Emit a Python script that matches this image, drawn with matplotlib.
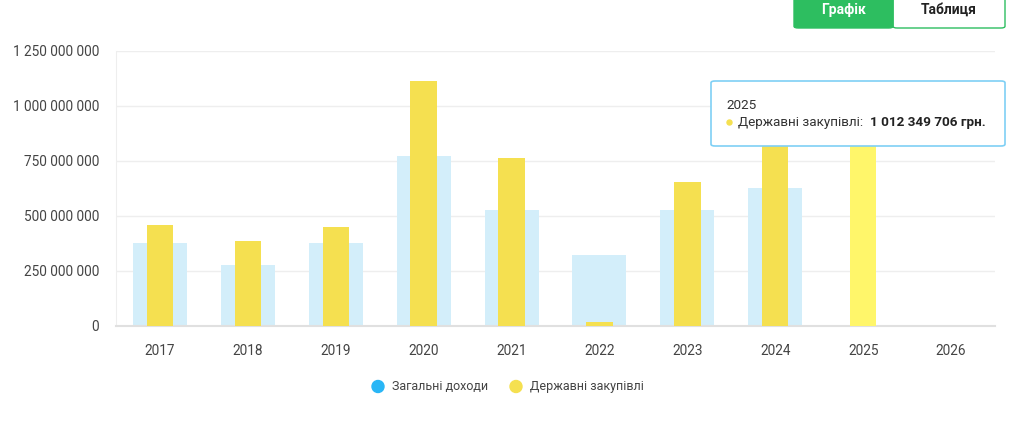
import matplotlib
matplotlib.use("Agg")
import matplotlib.pyplot as plt
from matplotlib.patches import FancyBboxPatch, Ellipse
import numpy as np

plt.rcParams['font.family'] = ['Roboto', 'DejaVu Sans']

years = ["2017", "2018", "2019", "2020", "2021", "2022", "2023", "2024", "2025", "2026"]
total_income = [375e6, 276e6, 375e6, 774e6, 524e6, 323e6, 524e6, 626e6, 0, 0]
procurement = [458e6, 385e6, 449e6, 1114e6, 765e6, 18e6, 655e6, 900e6, 1012349706, 0]
yticks = [0, 250e6, 500e6, 750e6, 1000e6, 1250e6]
ytick_labels = ["0", "250 000 000", "500 000 000", "750 000 000", "1 000 000 000", "1 250 000 000"]
legend_labels = ["Загальні доходи", "Державні закупівлі"]

W, H = 1024, 446
fig = plt.figure(figsize=(W/100, H/100), dpi=100)
ax = fig.add_axes([116/W, (H-325.5)/H, (995-116)/W, (325.5-51)/H])

x = np.arange(len(years))
blue = "#d3eefa"
yellow = "#f5e050"
yellow_hl = "#fff66a"
ycols = [yellow]*len(years)
ycols[8] = yellow_hl
ax.bar(x, total_income, width=0.615, color=blue, zorder=2)
ax.bar(x, procurement, width=0.30, color=ycols, zorder=3)

ax.set_xlim(-0.5, len(years)-0.5)
ax.set_ylim(0, 1250e6)
ax.set_yticks(yticks)
ax.set_yticklabels(ytick_labels)
ax.set_xticks(x)
ax.set_xticklabels(years)
ax.grid(axis='y', color="#eeeeee", linewidth=1, zorder=0)
ax.set_axisbelow(True)
for s in ['top', 'right']:
    ax.spines[s].set_visible(False)
ax.spines['left'].set_color("#eeeeee")
ax.spines['bottom'].set_color("#e0e0e0")
ax.spines['bottom'].set_linewidth(1.5)
ax.tick_params(axis='both', length=0, labelsize=9.8, colors="#444444")
ax.tick_params(axis='y', pad=12)
ax.tick_params(axis='x', pad=13)

# Legend
r = 6
fig.add_artist(Ellipse((378/W, (H-386.5)/H), 2*r/W, 2*r/H, transform=fig.transFigure,
                       color="#29b6f6"))
fig.text(392/W, (H-386.5)/H, legend_labels[0], fontsize=9, color="#444444", va='center')
fig.add_artist(Ellipse((516/W, (H-386.5)/H), 2*r/W, 2*r/H, transform=fig.transFigure,
                       color=yellow))
fig.text(530/W, (H-386.5)/H, legend_labels[1], fontsize=9, color="#444444", va='center')

# Tooltip
tip = FancyBboxPatch((711/W, (H-146)/H), (1005-711)/W, (146-81)/H,
                     boxstyle="round,pad=0,rounding_size=0.004", transform=fig.transFigure,
                     facecolor="white", edgecolor="#7fd0f5", linewidth=1.2, zorder=10)
fig.add_artist(tip)
fig.text(726/W, (H-105.5)/H, "2025", fontsize=9.7, color="#333333", va='center', zorder=11)
fig.add_artist(Ellipse((729.5/W, (H-122.5)/H), 5/W, 5/H, transform=fig.transFigure,
                       color=yellow, zorder=11))
fig.text(738/W, (H-122.5)/H, "Державні закупівлі:", fontsize=9.7, color="#333333", va='center', zorder=11)
fig.text(870.5/W, (H-122.5)/H, "1 012 349 706 грн.", fontsize=9.7, color="#222222",
         va='center', fontweight='bold', zorder=11)

# Buttons
btn_w = FancyBboxPatch((893/W, (H-28)/H), (1005-893)/W, 34/H,
                       boxstyle="round,pad=0,rounding_size=0.004", transform=fig.transFigure,
                       facecolor="white", edgecolor="#2dbe60", linewidth=1)
btn_g = FancyBboxPatch((794/W, (H-28)/H), (893-794)/W, 34/H,
                       boxstyle="round,pad=0,rounding_size=0.004", transform=fig.transFigure,
                       facecolor="#2dbe60", edgecolor="#2dbe60", linewidth=1)
fig.add_artist(btn_w)
fig.add_artist(btn_g)
fig.text(843/W, (H-10)/H, "Графік", fontsize=10, color="white", fontweight='bold',
         ha='center', va='center')
fig.text(949/W, (H-10)/H, "Таблиця", fontsize=10, color="#222222", fontweight='bold',
         ha='center', va='center')

fig.savefig("out.png", dpi=100, facecolor="white")
